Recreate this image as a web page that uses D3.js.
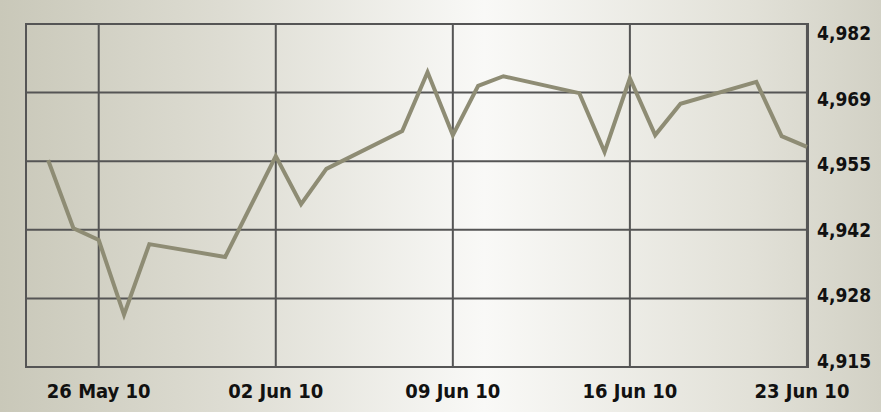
<!DOCTYPE html>
<html>
<head>
<meta charset="utf-8">
<script src="https://cdnjs.cloudflare.com/ajax/libs/d3/7.8.5/d3.min.js"></script>
<style>
  html, body { margin: 0; padding: 0; }
  #chart { width: 881px; height: 412px; }
  .tick-label { font-family: "DejaVu Sans Condensed", "DejaVu Sans", sans-serif; font-weight: bold; fill: #111; }
</style>
</head>
<body>
<div id="chart"></div>
<script>
// trading days, close values
var dates = [
  "2010-05-24", "2010-05-25", "2010-05-26", "2010-05-27", "2010-05-28",
  "2010-05-31", "2010-06-02", "2010-06-03", "2010-06-04", "2010-06-07",
  "2010-06-08", "2010-06-09", "2010-06-10", "2010-06-11", "2010-06-14",
  "2010-06-15", "2010-06-16", "2010-06-17", "2010-06-18", "2010-06-21",
  "2010-06-22", "2010-06-23"
];
var values = [
  4955.4, 4942.1, 4939.8, 4925.2, 4939.0,
  4936.5, 4956.2, 4946.8, 4953.7, 4961.1,
  4972.6, 4960.3, 4969.9, 4971.8, 4968.5,
  4957.0, 4971.4, 4960.3, 4966.4, 4970.7,
  4960.1, 4958.0
];
var xTickDates = ["2010-05-26", "2010-06-02", "2010-06-09", "2010-06-16", "2010-06-23"];
var xTickLabels = ["26 May 10", "02 Jun 10", "09 Jun 10", "16 Jun 10", "23 Jun 10"];
var yTickValues = [4915, 4928.4, 4941.8, 4955.2, 4968.6, 4982];
var yTickLabels = ["4,915", "4,928", "4,942", "4,955", "4,969", "4,982"];

var W = 881, H = 412;
var margin = { top: 24, right: 73, bottom: 45, left: 26 };
var width = W - margin.left - margin.right,
  height = H - margin.top - margin.bottom;

var parse = d3.timeParse("%Y-%m-%d");
var data = dates.map(function(d, i) {
  return { date: parse(d), value: values[i] };
});

var x = d3.scaleTime()
  .domain([new Date(2010, 4, 23, 3), new Date(2010, 5, 23, 1)])
  .range([0, width]);
var y = d3.scaleLinear().domain([4915, 4982]).range([height, 0]);
// labels are spread a bit tighter than the grid in the original
var yLabel = d3.scaleLinear().domain([4915, 4982]).range([height + 1, 16]);

var svg = d3.select("#chart")
  .append("svg")
  .attr("width", W)
  .attr("height", H);

var grad = svg.append("defs")
  .append("linearGradient")
  .attr("id", "bg")
  .attr("x1", "0%").attr("x2", "100%")
  .attr("y1", "0%").attr("y2", "0%");
grad.append("stop").attr("offset", "0%").attr("stop-color", "#c9c8b9");
grad.append("stop").attr("offset", "25%").attr("stop-color", "#dddcd2");
grad.append("stop").attr("offset", "55%").attr("stop-color", "#f9f9f7");
grad.append("stop").attr("offset", "85%").attr("stop-color", "#e2e1d8");
grad.append("stop").attr("offset", "100%").attr("stop-color", "#d2d1c5");

svg.append("rect")
  .attr("width", W)
  .attr("height", H)
  .attr("fill", "url(#bg)");

var g = svg.append("g")
  .attr("transform", "translate(" + margin.left + "," + margin.top + ")");

// grid
g.selectAll(".hgrid")
  .data(yTickValues)
  .enter()
  .append("line")
  .attr("class", "hgrid")
  .attr("x1", 0)
  .attr("x2", width)
  .attr("y1", function(d) { return y(d); })
  .attr("y2", function(d) { return y(d); })
  .attr("stroke", "#555")
  .attr("stroke-width", 2);

g.selectAll(".vgrid")
  .data(xTickDates.map(parse))
  .enter()
  .append("line")
  .attr("class", "vgrid")
  .attr("x1", function(d) { return x(d); })
  .attr("x2", function(d) { return x(d); })
  .attr("y1", 0)
  .attr("y2", height)
  .attr("stroke", "#555")
  .attr("stroke-width", 2);

g.append("rect")
  .attr("width", width)
  .attr("height", height)
  .attr("fill", "none")
  .attr("stroke", "#555")
  .attr("stroke-width", 2);

var line = d3.line()
  .x(function(d) { return x(d.date); })
  .y(function(d) { return y(d.value); });

g.append("path")
  .datum(data)
  .attr("d", line)
  .attr("fill", "none")
  .attr("stroke", "#8e8c74")
  .attr("stroke-width", 4)
  .attr("stroke-linejoin", "miter");

// y labels on the right
g.selectAll(".ylab")
  .data(yTickValues)
  .enter()
  .append("text")
  .attr("class", "tick-label")
  .attr("x", width + 9)
  .attr("y", function(d) { return yLabel(d); })
  .style("font-size", "19px")
  .text(function(d, i) { return yTickLabels[i]; });

// x labels
g.selectAll(".xlab")
  .data(xTickDates.map(parse))
  .enter()
  .append("text")
  .attr("class", "tick-label")
  .attr("x", function(d, i) { return x(d) - (i == xTickDates.length - 1 ? 5 : 0); })
  .attr("y", height + 31)
  .attr("text-anchor", "middle")
  .style("font-size", "20px")
  .text(function(d, i) { return xTickLabels[i]; });
</script>
</body>
</html>
